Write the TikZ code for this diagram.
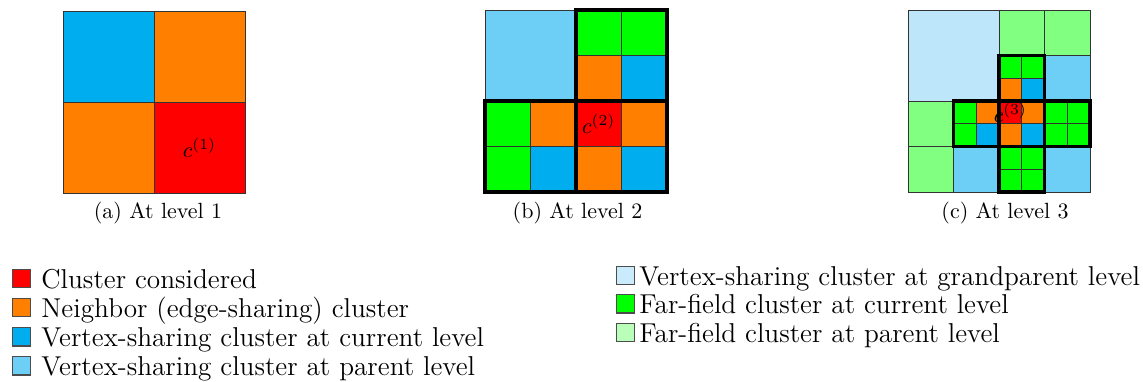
\documentclass[tikz,border=0pt]{standalone}
\usepackage{amsmath}
\usepackage{amssymb}
\usepackage{tikz}
\definecolor{considered}{RGB}{255,0,0}
\definecolor{neighbor}{RGB}{255,128,0}
\definecolor{vscur}{RGB}{0,174,239}
\definecolor{vspar}{RGB}{109,207,246}
\definecolor{vsgrand}{RGB}{189,230,250}
\definecolor{ffcur}{RGB}{0,255,0}
\definecolor{ffpar}{RGB}{128,255,128}

\begin{document}
\begin{tikzpicture}[x=0.4545pt,y=-0.4545pt,
  cell/.style={draw=black!80,line width=0.4pt},
  blockline/.style={draw=black,line width=1.8pt},
  lbl/.style={inner sep=0pt,font=\fontsize{10}{12}\selectfont},
  legbox/.style={draw=black!70,line width=0.5pt,minimum size=8.2pt,inner sep=0pt,anchor=south},
  legtext/.style={anchor=base west,inner sep=0pt,font=\fontsize{12.4}{14}\selectfont}]
\useasboundingbox (0,0) rectangle (1143,381);

\begin{scope}[shift={(63,11)},x=10.34pt,y=-10.34pt]
\foreach \i/\j/\c in {0/0/vscur,4/0/neighbor,0/4/neighbor,4/4/considered}
  \filldraw[cell,fill=\c] (\i,\j) rectangle ++(4,4);
\node[lbl] (ca) at (6,6) {$c^{(1)}$};
\end{scope}

\begin{scope}[shift={(485,10)},x=10.34pt,y=-10.34pt]
\filldraw[cell,fill=vspar] (0,0) rectangle ++(4,4);
\foreach \i/\j/\c in {4/0/ffcur,6/0/ffcur,4/2/neighbor,6/2/vscur,
    0/4/ffcur,2/4/neighbor,0/6/ffcur,2/6/vscur,
    4/4/considered,6/4/neighbor,4/6/neighbor,6/6/vscur}
  \filldraw[cell,fill=\c] (\i,\j) rectangle ++(2,2);
\foreach \i/\j in {4/0,0/4,4/4}
  \draw[blockline] (\i,\j) rectangle ++(4,4);
\node[lbl] (cb) at (5,5) {$c^{(2)}$};
\end{scope}

\begin{scope}[shift={(908,10)},x=10.34pt,y=-10.34pt]
\filldraw[cell,fill=vsgrand] (0,0) rectangle ++(4,4);
\foreach \i/\j/\c in {4/0/ffpar,6/0/ffpar,6/2/vspar,0/4/ffpar,0/6/ffpar,2/6/vspar,6/6/vspar}
  \filldraw[cell,fill=\c] (\i,\j) rectangle ++(2,2);
\foreach \i/\j/\c in {4/2/ffcur,5/2/ffcur,4/3/neighbor,5/3/vscur,
    2/4/ffcur,3/4/neighbor,2/5/ffcur,3/5/vscur,
    4/4/considered,5/4/neighbor,4/5/neighbor,5/5/vscur,
    6/4/ffcur,7/4/ffcur,6/5/ffcur,7/5/ffcur,
    4/6/ffcur,5/6/ffcur,4/7/ffcur,5/7/ffcur}
  \filldraw[cell,fill=\c] (\i,\j) rectangle ++(1,1);
\foreach \i/\j in {4/2,2/4,4/4,6/4,4/6}
  \draw[blockline] (\i,\j) rectangle ++(2,2);
\node[lbl] (cc) at (4.5,4.5) {$c^{(3)}$};
\end{scope}

\node[lbl,anchor=base] (capa) at (158,218) {(a) At level 1};
\node[lbl,anchor=base] (capb) at (577.5,218) {(b) At level 2};
\node[lbl,anchor=base] (capc) at (1005,218) {(c) At level 3};

\foreach \c/\yb/\t [count=\k] in {considered/288/{Cluster considered},
    neighbor/317/{Neighbor (edge-sharing) cluster},
    vscur/346.5/{Vertex-sharing cluster at current level},
    vspar/375.5/{Vertex-sharing cluster at parent level}}
{
  \node[legbox,fill=\c] (lbox\k) at (21.5,\yb) {};
  \node[legtext] (ltxt\k) at (41,\yb) {\t};
}
\foreach \c/\yb/\t [count=\k] in {vsgrand!80/285/{Vertex-sharing cluster at grandparent level},
    ffcur/313.5/{Far-field cluster at current level},
    ffpar!55/342/{Far-field cluster at parent level}}
{
  \node[legbox,fill=\c] (rbox\k) at (625.5,\yb) {};
  \node[legtext] (rtxt\k) at (639,\yb) {\t};
}
\end{tikzpicture}
\end{document}
